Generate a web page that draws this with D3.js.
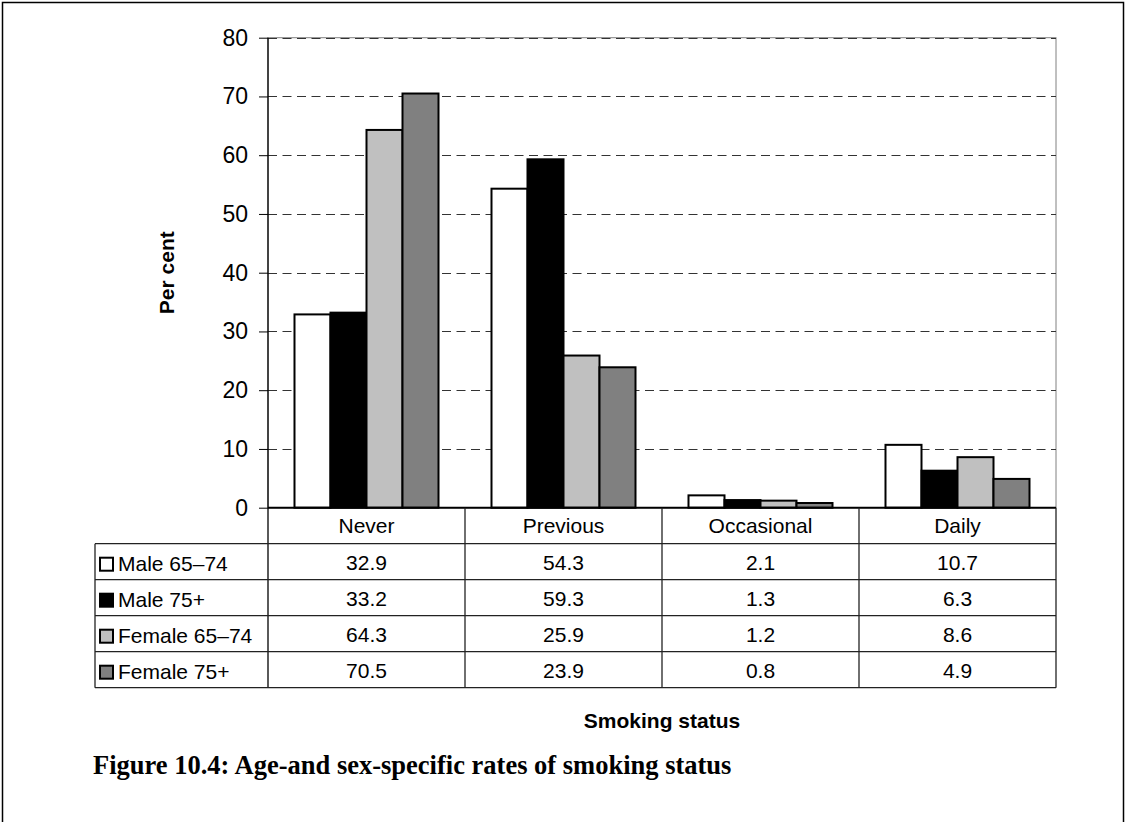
<!DOCTYPE html>
<html>
<head>
<meta charset="utf-8">
<script src="https://cdn.jsdelivr.net/npm/d3@7"></script>
<style>
  html, body { margin: 0; padding: 0; background: #fff; }
  svg { display: block; }
  text { font-family: "Liberation Sans", Arial, sans-serif; fill: #000; }
</style>
</head>
<body>
<svg id="chart" width="1128" height="822"></svg>
<script>
// Smoking status by age group and sex (per cent)
const categories = ["Never", "Previous", "Occasional", "Daily"];
const seriesNames = ["Male 65–74", "Male 75+", "Female 65–74", "Female 75+"];
const seriesColors = ["#ffffff", "#000000", "#c0c0c0", "#808080"];
const male6574 = [32.9, 54.3, 2.1, 10.7];
const male75 = [33.2, 59.3, 1.3, 6.3];
const female6574 = [64.3, 25.9, 1.2, 8.6];
const female75 = [70.5, 23.9, 0.8, 4.9];
const yTicks = [0, 10, 20, 30, 40, 50, 60, 70, 80];

const seriesValues = [male6574, male75, female6574, female75];
const series = seriesNames.map((name, i) => ({ name, color: seriesColors[i], values: seriesValues[i] }));

const svg = d3.select("#chart");

// Outer frame
svg.append("rect")
  .attr("x", 2.5).attr("y", 2.5)
  .attr("width", 1121).attr("height", 860)
  .attr("fill", "none").attr("stroke", "#000").attr("stroke-width", 1.5);

const plot = { left: 268, right: 1056, top: 37.7, bottom: 507.7 };

const x0 = d3.scaleBand().domain(categories).range([plot.left, plot.right]).padding(0);
const x1 = d3.scaleBand().domain(seriesNames).range([0, x0.bandwidth()])
  .paddingInner(0).paddingOuter(0.736);
const y = d3.scaleLinear().domain([0, 80]).range([plot.bottom, plot.top]);

// Plot area frame
svg.append("rect")
  .attr("x", plot.left).attr("y", plot.top)
  .attr("width", plot.right - plot.left).attr("height", plot.bottom - plot.top)
  .attr("fill", "none").attr("stroke", "#808080").attr("stroke-width", 1);

// Dashed gridlines
svg.append("g")
  .selectAll("line")
  .data(yTicks.filter(t => t > 0))
  .join("line")
  .attr("x1", plot.left).attr("x2", plot.right)
  .attr("y1", d => Math.round(y(d)) + 0.5).attr("y2", d => Math.round(y(d)) + 0.5)
  .attr("stroke", "#333").attr("stroke-width", 1)
  .attr("stroke-dasharray", "9,5.5");

// Bars
const groups = svg.append("g")
  .selectAll("g")
  .data(categories)
  .join("g")
  .attr("transform", d => `translate(${x0(d)},0)`);

groups.selectAll("rect")
  .data((c, ci) => series.map(s => ({ s, v: s.values[ci] })))
  .join("rect")
  .attr("x", d => x1(d.s.name))
  .attr("y", d => y(d.v))
  .attr("width", x1.bandwidth())
  .attr("height", d => y(0) - y(d.v))
  .attr("fill", d => d.s.color)
  .attr("stroke", "#000")
  .attr("stroke-width", 2);

// Y axis
const yAxis = d3.axisLeft(y).tickValues(yTicks).tickSize(9).tickPadding(11).tickFormat(d3.format("d"));
const yg = svg.append("g").attr("transform", `translate(${plot.left},0)`).call(yAxis);
yg.select(".domain").remove();
yg.selectAll(".tick line").attr("stroke", "#000").attr("stroke-width", 1);
yg.selectAll(".tick text")
  .attr("font-family", "Liberation Sans, Arial, sans-serif")
  .attr("font-size", 23)
  .attr("fill", "#000");

// Axis line (continues down to the bottom of the data table)
const tableTop = plot.bottom;
const rowH = 36;
const tableRows = series.length + 1;
const tableBottom = tableTop + rowH * tableRows;
const tableLeft = 95;

svg.append("line")
  .attr("x1", plot.left).attr("x2", plot.left)
  .attr("y1", plot.top).attr("y2", tableBottom)
  .attr("stroke", "#000").attr("stroke-width", 1.3);

// X axis baseline
svg.append("line")
  .attr("x1", plot.left).attr("x2", plot.right)
  .attr("y1", plot.bottom).attr("y2", plot.bottom)
  .attr("stroke", "#000").attr("stroke-width", 2);

// Data table
const table = svg.append("g");
// Horizontal rules
for (let r = 1; r <= tableRows; r++) {
  const yy = tableTop + r * rowH;
  table.append("line")
    .attr("x1", tableLeft).attr("x2", plot.right)
    .attr("y1", yy).attr("y2", yy)
    .attr("stroke", "#222").attr("stroke-width", 1.3);
}
// Left edge of the legend column
table.append("line")
  .attr("x1", tableLeft).attr("x2", tableLeft)
  .attr("y1", tableTop + rowH).attr("y2", tableBottom)
  .attr("stroke", "#222").attr("stroke-width", 1.3);
// Column dividers
const colEdges = categories.map(c => x0(c)).concat([plot.right]).slice(1);
table.selectAll("line.col")
  .data(colEdges)
  .join("line")
  .attr("class", "col")
  .attr("x1", d => d).attr("x2", d => d)
  .attr("y1", tableTop).attr("y2", tableBottom)
  .attr("stroke", "#222").attr("stroke-width", 1.3);

// Category labels
table.selectAll("text.cat")
  .data(categories)
  .join("text")
  .attr("class", "cat")
  .attr("x", d => x0(d) + x0.bandwidth() / 2)
  .attr("y", tableTop + 25)
  .attr("text-anchor", "middle")
  .attr("font-size", 21)
  .text(d => d);

// Series rows
series.forEach((s, i) => {
  const rowTop = tableTop + (i + 1) * rowH;
  const base = rowTop + 27;
  table.append("rect")
    .attr("x", 100).attr("y", base - 13)
    .attr("width", 13).attr("height", 13)
    .attr("fill", s.color).attr("stroke", "#000").attr("stroke-width", 2);
  table.append("text")
    .attr("x", 118).attr("y", base)
    .attr("font-size", 21)
    .text(s.name);
  categories.forEach((c, ci) => {
    table.append("text")
      .attr("x", x0(c) + x0.bandwidth() / 2)
      .attr("y", base - 1)
      .attr("text-anchor", "middle")
      .attr("font-size", 21)
      .text(s.values[ci].toFixed(1));
  });
});

// Axis titles
svg.append("text")
  .attr("transform", `translate(174,${(plot.top + plot.bottom) / 2}) rotate(-90)`)
  .attr("text-anchor", "middle")
  .attr("font-size", 21)
  .attr("font-weight", "bold")
  .text("Per cent");

svg.append("text")
  .attr("x", (plot.left + plot.right) / 2)
  .attr("y", 728)
  .attr("text-anchor", "middle")
  .attr("font-size", 21)
  .attr("font-weight", "bold")
  .text("Smoking status");

// Figure caption
svg.append("text")
  .attr("x", 93)
  .attr("y", 774)
  .style("font-family", "'Liberation Serif', 'Times New Roman', serif")
  .attr("font-size", 26.5)
  .attr("font-weight", "bold")
  .text("Figure 10.4: Age-and sex-specific rates of smoking status");
</script>
</body>
</html>
